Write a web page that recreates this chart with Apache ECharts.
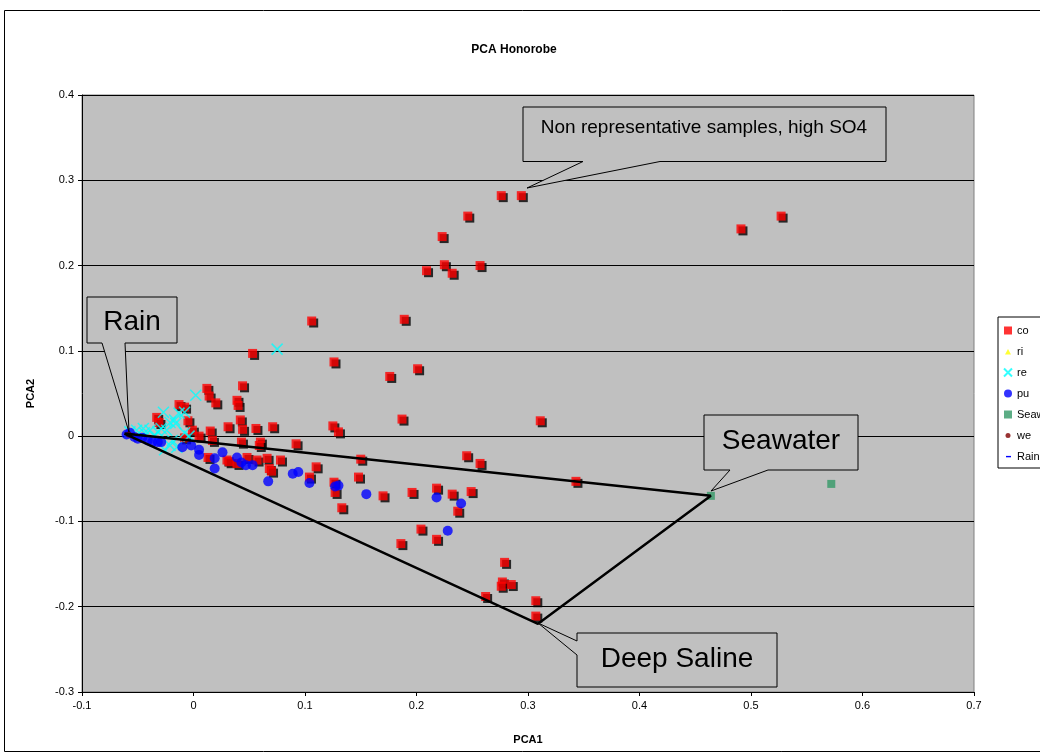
<!DOCTYPE html>
<html><head><meta charset="utf-8">
<script src="https://cdn.jsdelivr.net/npm/echarts@6/dist/echarts.min.js"></script>
<style>html,body{margin:0;padding:0;background:#fff}#c{width:1040px;height:754px}</style>
</head><body><div id="c"></div>
<script>
// ---- axis ranges ----
const xMin = -0.1, xMax = 0.7, xStep = 0.1;
const yMin = -0.3, yMax = 0.4, yStep = 0.1;

// ---- series data [PCA1, PCA2] ----
const co = [
  [0.276,0.282],[0.294,0.282],[0.246,0.258],[0.223,0.234],[0.225,0.201],[0.232,0.191],
  [0.209,0.194],[0.257,0.200],[0.491,0.243],[0.527,0.258],[0.189,0.137],[0.106,0.135],
  [0.053,0.097],[0.126,0.087],[0.201,0.079],[0.176,0.070],[0.187,0.020],[0.311,0.018],
  [0.012,0.056],[0.014,0.047],[0.020,0.039],[0.044,0.059],[0.039,0.042],[0.040,0.036],
  [-0.013,0.037],[-0.008,0.034],[-0.033,0.022],[-0.031,0.016],[-0.005,0.018],[0.042,0.019],
  [0.031,0.011],[0.044,0.008],[0.056,0.009],[0.071,0.011],[0.125,0.012],[0.130,0.005],
  [0.015,0.006],[-0.001,0.007],[0.005,0.000],[0.017,-0.005],[0.043,-0.007],[0.060,-0.007],
  [0.059,-0.011],[0.013,-0.025],[0.030,-0.028],[0.032,-0.030],[0.039,-0.032],[0.048,-0.025],
  [0.057,-0.028],[0.066,-0.026],[0.068,-0.038],[0.070,-0.041],[0.078,-0.028],[0.092,-0.009],
  [0.110,-0.036],[0.104,-0.048],[0.126,-0.054],[0.127,-0.066],[0.148,-0.048],[0.150,-0.027],
  [0.133,-0.084],[0.170,-0.070],[0.196,-0.066],[0.218,-0.061],[0.232,-0.068],[0.249,-0.065],
  [0.245,-0.023],[0.257,-0.032],[0.237,-0.088],[0.204,-0.109],[0.218,-0.121],[0.186,-0.126],
  [0.343,-0.053],[0.279,-0.148],[0.277,-0.171],[0.276,-0.176],[0.285,-0.174],[0.262,-0.188],
  [0.307,-0.193],[0.307,-0.211],[-0.008,-0.002]
];
const ri = [];
const re = [
  [0.075,0.102],[0.002,0.048],[-0.027,0.028],[-0.013,0.027],[-0.017,0.019],[-0.021,0.016],
  [-0.016,0.015],[-0.029,0.009],[-0.024,0.007],[-0.039,0.007],[-0.045,0.009],[-0.051,0.007],
  [-0.057,0.005],[-0.019,-0.005],[-0.021,-0.011],[-0.015,-0.013],[-0.026,-0.016],[-0.032,0.005],
  [-0.008,0.004],[-0.004,0.000],[-0.044,0.004],[-0.035,0.000],[-0.008,0.028]
];
const pu = [
  [-0.057,0.004],[-0.053,-0.001],[-0.046,-0.002],[-0.041,-0.005],[-0.037,-0.007],[-0.032,-0.007],
  [-0.029,-0.007],[-0.010,-0.013],[-0.002,-0.011],[0.005,-0.016],[0.005,-0.022],[0.019,-0.026],
  [0.026,-0.019],[0.019,-0.038],[0.039,-0.025],[0.043,-0.031],[0.047,-0.034],[0.053,-0.034],
  [0.067,-0.053],[0.089,-0.044],[0.094,-0.042],[0.104,-0.055],[0.127,-0.059],[0.130,-0.058],
  [0.155,-0.068],[0.218,-0.072],[0.240,-0.079],[0.228,-0.111],[-0.060,0.002],[-0.050,-0.003]
];
const seawater = [[0.464,-0.070],[0.572,-0.056]];
const we = [[-0.058,0.002]];
const mixingLine = [[-0.062,0.003],[0.464,-0.070],[0.309,-0.220],[-0.062,0.003]];

const seriesNames = ['co','ri','re','pu','Seawater','we','Rain-Seawater-Deep Saline'];
const FONT = '"Liberation Sans", Arial, sans-serif';

const chart = echarts.init(document.getElementById('c'), null, {renderer:'canvas'});

function callout(points, text, tx, ty, size) {
  return [
    {type:'polygon', z:50, shape:{points:points},
     style:{fill:'#C0C0C0', stroke:'#000', lineWidth:1}},
    {type:'text', z:51, style:{text:text, x:tx, y:ty, textAlign:'center', textVerticalAlign:'middle',
      font: size + 'px ' + FONT, fill:'#000'}}
  ];
}

const graphics = [].concat(
  [{type:'rect', z:0, shape:{x:4.5,y:10.5,width:1040,height:741}, style:{fill:'none', stroke:'#000', lineWidth:1}},
   {type:'text', z:51, style:{text:'PCA Honorobe', x:514, y:50, textAlign:'center', textVerticalAlign:'middle',
     font:'bold 12px ' + FONT, fill:'#000'}}],
  callout([[87,297],[177,297],[177,343],[125,343],[129,432],[102,343],[87,343]], 'Rain', 132, 322, 28),
  callout([[523,107],[886,107],[886,161.5],[660,161.5],[527,188],[583,161.5],[523,161.5]],
          'Non representative samples, high SO4', 704, 128, 19),
  callout([[704,415],[858,415],[858,470],[768,470],[711,491],[730,470],[704,470]], 'Seawater', 781, 441, 28),
  callout([[577,633],[777,633],[777,687],[577,687],[577,655],[538,623],[577,641]], 'Deep Saline', 677, 659, 28)
);

chart.setOption({
  animation:false,
  backgroundColor:'#ffffff',
  textStyle:{fontFamily:FONT},
  grid:{left:82, top:95, width:892, height:597, show:true, backgroundColor:'#C0C0C0',
        borderColor:'#808080', borderWidth:1, containLabel:false},
  xAxis:{type:'value', min:xMin, max:xMax, interval:xStep,
    name:'PCA1', nameLocation:'middle', nameGap:42,
    nameTextStyle:{fontWeight:'bold', fontSize:11, color:'#000', fontFamily:FONT},
    axisLine:{onZero:false, lineStyle:{color:'#000', width:1}},
    axisTick:{show:true, length:4, lineStyle:{color:'#000'}},
    axisLabel:{fontSize:11, color:'#000', margin:8, fontFamily:FONT},
    splitLine:{show:false}},
  yAxis:{type:'value', min:yMin, max:yMax, interval:yStep,
    name:'PCA2', nameLocation:'middle', nameGap:46, nameRotate:90,
    nameTextStyle:{fontWeight:'bold', fontSize:11, color:'#000', fontFamily:FONT},
    axisLine:{onZero:false, lineStyle:{color:'#000', width:1}},
    axisTick:{show:true, length:4, lineStyle:{color:'#000'}},
    axisLabel:{fontSize:11, color:'#000', margin:8, fontFamily:FONT},
    splitLine:{show:true, lineStyle:{color:'#000', width:1}}},
  legend:{orient:'vertical', left:998, top:317, padding:[8,60,6,5], itemGap:10,
    itemWidth:8, itemHeight:8, itemTextGap:5,
    backgroundColor:'#fff', borderColor:'#000', borderWidth:1, borderRadius:0,
    textStyle:{fontSize:11, color:'#000', fontFamily:FONT},
    data:[
      {name:seriesNames[0], icon:'rect'},
      {name:seriesNames[1], icon:'path://M0,0 M4,1.5 L7,7 L1,7 Z M8,8'},
      {name:seriesNames[2], icon:'path://M0,0 L8,8 M8,0 L0,8'},
      {name:seriesNames[3], icon:'circle'},
      {name:seriesNames[4], icon:'rect'},
      {name:seriesNames[5], icon:'path://M0,0 M6.5,4 A2.5,2.5 0 1 1 1.5,4 A2.5,2.5 0 1 1 6.5,4 Z M8,8'},
      {name:seriesNames[6], icon:'path://M0,0 M2,3.4 L7,3.4 L7,4.8 L2,4.8 Z M8,8', itemStyle:{color:'#0000FF', borderWidth:0}}
    ]},
  graphic: graphics,
  series:[
    {name:seriesNames[0], type:'scatter', data:co, symbol:'rect', symbolSize:9, z:2,
     itemStyle:{color:'#FF0000', shadowColor:'#000', shadowBlur:0, shadowOffsetX:2, shadowOffsetY:2}},
    {name:seriesNames[1], type:'scatter', data:ri, symbol:'triangle', symbolSize:7,
     itemStyle:{color:'#FFFF00'}},
    {name:seriesNames[2], type:'scatter', data:re, symbol:'path://M0,0 L10,10 M10,0 L0,10', symbolSize:11,
     itemStyle:{color:'rgba(0,0,0,0)', borderColor:'#00FFFF', borderWidth:1.5}},
    {name:seriesNames[3], type:'scatter', data:pu, symbol:'circle', symbolSize:10,
     itemStyle:{color:'#0000FF'}},
    {name:seriesNames[4], type:'scatter', data:seawater, symbol:'rect', symbolSize:8,
     itemStyle:{color:'#339966'}},
    {name:seriesNames[5], type:'scatter', data:we, symbol:'circle', symbolSize:6,
     itemStyle:{color:'#800000'}},
    {name:seriesNames[6], type:'line', data:mixingLine, symbol:'none', z:3,
     lineStyle:{color:'#000', width:2.5}, itemStyle:{color:'#0000FF'}}
  ]
});
</script>
</body></html>
